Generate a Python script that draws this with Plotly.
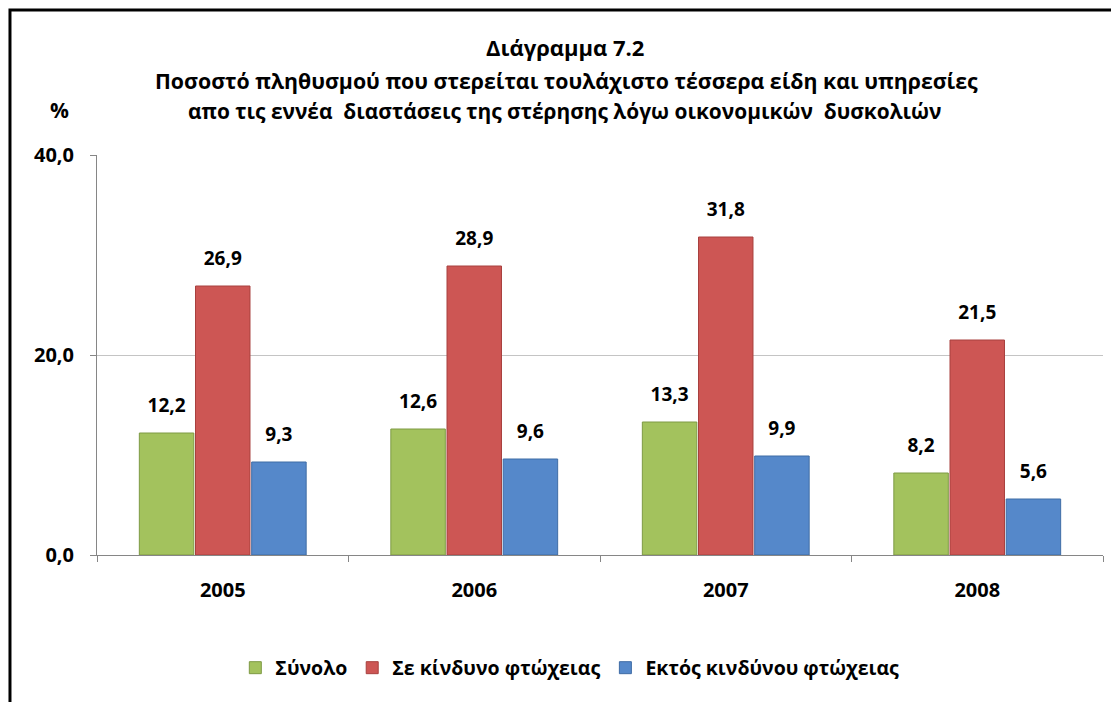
import plotly.graph_objects as go

years = ["2005", "2006", "2007", "2008"]
series_names = ["Σύνολο", "Σε κίνδυνο φτώχειας", "Εκτός κινδύνου φτώχειας"]
total = [12.2, 12.6, 13.3, 8.2]
at_risk = [26.9, 28.9, 31.8, 21.5]
not_at_risk = [9.3, 9.6, 9.9, 5.6]
y_ticks = [0, 20, 40]
title_lines = [
    "Διάγραμμα 7.2",
    "Ποσοστό πληθυσμού που στερείται τουλάχιστο τέσσερα είδη και υπηρεσίες",
    "απο τις εννέα  διαστάσεις της στέρησης λόγω οικονομικών  δυσκολιών",
]

fill_colors = ["#A3C25D", "#CD5654", "#5588CA"]
edge_colors = ["#7E9A44", "#A8403E", "#3F6CA5"]
FONT = "Open Sans"

fig = go.Figure()
all_vals = [total, at_risk, not_at_risk]
for name, vals, fc, ec in zip(series_names, all_vals, fill_colors, edge_colors):
    fig.add_trace(go.Bar(
        x=years, y=vals, name=name,
        marker=dict(color=fc, line=dict(color=ec, width=1)),
        hoverinfo="y+name",
    ))
for name, vals in zip(series_names, all_vals):
    fig.add_trace(go.Scatter(
        x=years, y=vals, mode="markers+text", showlegend=False,
        texttemplate="%{y:.1f}", textposition="top center",
        textfont=dict(family=FONT, size=19, color="black", weight="bold"),
        marker=dict(size=24, opacity=0),
        cliponaxis=False, hoverinfo="skip",
    ))

annotations = []
title_pos = [(0.465, 1.27, 22), (0.467, 1.1875, 21.3), (0.4657, 1.11, 20.9)]
for txt, (xx, yy, fs) in zip(title_lines, title_pos):
    annotations.append(dict(
        text=f"<b>{txt}</b>", x=xx, y=yy, xref="paper", yref="paper",
        xanchor="center", yanchor="middle", showarrow=False,
        font=dict(family=FONT, size=fs, color="black"),
    ))
annotations.append(dict(
    text="<b>%</b>", x=-0.0368, y=1.1125, xref="paper", yref="paper",
    xanchor="center", yanchor="middle", showarrow=False,
    font=dict(family=FONT, size=21, color="black"),
))

fig.update_layout(
    width=1111, height=694,
    margin=dict(l=89, r=16, t=147, b=147, pad=0),
    paper_bgcolor="white", plot_bgcolor="white",
    separators=",.",
    barmode="group", bargap=0.33, bargroupgap=0.03,
    scattermode="group", scattergap=0.33,
    font=dict(family=FONT, color="black"),
    showlegend=True,
    legend=dict(
        orientation="h", x=0.47, y=-0.2825, xanchor="center", yanchor="middle",
        font=dict(family=FONT, size=19.5, color="black", weight="bold"),
        itemwidth=30, tracegroupgap=0, bgcolor="rgba(0,0,0,0)",
    ),
    annotations=annotations,
    shapes=[dict(
        type="rect", xref="paper", yref="paper",
        x0=-0.0865, x1=1.03, y0=-0.4, y1=1.3625,
        line=dict(color="black", width=3), fillcolor="rgba(0,0,0,0)", layer="below",
    )],
)
fig.update_yaxes(
    range=[0, 40], tickvals=y_ticks, tickformat=".1f",
    showgrid=True, gridcolor="#C4C4C4", gridwidth=1,
    showline=True, linecolor="#868686", linewidth=1,
    ticks="outside", ticklen=6, tickcolor="#868686",
    tickfont=dict(family=FONT, size=20, color="black", weight="bold"),
    ticklabelstandoff=12, zeroline=False, fixedrange=True,
)
fig.update_xaxes(
    showline=True, linecolor="#868686", linewidth=1,
    ticks="outside", ticklen=6, tickcolor="#868686", tickson="boundaries",
    tickfont=dict(family=FONT, size=20, color="black", weight="bold"),
    ticklabelstandoff=17, showgrid=False, fixedrange=True,
)

fig.write_html("out.html")
